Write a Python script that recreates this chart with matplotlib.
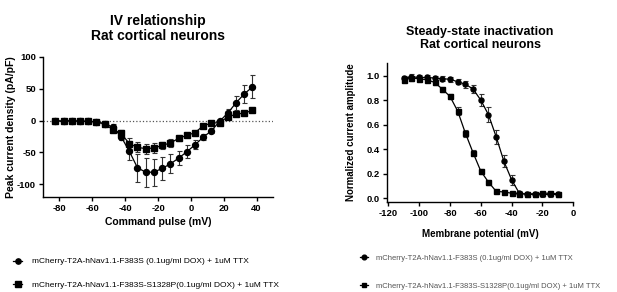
import matplotlib
matplotlib.use("Agg")
import matplotlib.pyplot as plt
from matplotlib.lines import Line2D

plt.rcParams['font.family'] = ['Liberation Sans', 'DejaVu Sans']
plt.rcParams['axes.unicode_minus'] = False

# IV relationship data
iv_volt = [-82.5, -77.5, -72.5, -67.5, -62.5, -57.5, -52.5, -47.5, -42.5, -37.5,
           -32.5, -27.5, -22.5, -17.5, -12.5, -7.5, -2.5, 2.5, 7.5, 12.5,
           17.5, 22.5, 27.5, 32.5, 37.5]
iv_f383s = [0, -1, 0, -1, -1, -2, -5, -10, -25, -48,
            -74, -81, -81, -75, -68, -59, -49, -38, -26, -16,
            -1, 12, 28, 42, 53]
iv_f383s_err = [2, 1, 1, 1, 1, 1, 2, 4, 6, 14,
                22, 23, 21, 18, 15, 11, 10, 7, 5, 4,
                4, 7, 11, 14, 18]
iv_s1328p = [0, -1, 0, -1, -1, -2, -5, -14, -20, -36,
             -42, -44, -43, -39, -35, -28, -23, -19, -8, -4,
             -3, 6, 10, 12, 16]
iv_s1328p_err = [2, 1, 1, 1, 1, 1, 2, 4, 6, 8,
                 8, 8, 8, 6, 6, 4, 3, 3, 3, 2,
                 3, 3, 2, 2, 2]

# steady-state inactivation data
ss_volt = [-110, -105, -100, -95, -90, -85, -80, -75, -70, -65,
           -60, -55, -50, -45, -40, -35, -30, -25, -20, -15, -10]
ss_f383s = [0.98, 0.99, 0.985, 0.985, 0.98, 0.975, 0.97, 0.95, 0.93, 0.89,
            0.80, 0.68, 0.50, 0.30, 0.15, 0.04, 0.03, 0.03, 0.03, 0.03, 0.03]
ss_f383s_err = [0.02, 0.02, 0.02, 0.02, 0.02, 0.02, 0.02, 0.02, 0.03, 0.03,
                0.05, 0.06, 0.06, 0.05, 0.04, 0.02, 0.02, 0.02, 0.02, 0.02, 0.02]
ss_s1328p = [0.965, 0.98, 0.975, 0.965, 0.945, 0.89, 0.83, 0.71, 0.53, 0.37,
             0.22, 0.13, 0.055, 0.05, 0.04, 0.035, 0.035, 0.035, 0.04, 0.04, 0.035]
ss_s1328p_err = [0.02, 0.02, 0.02, 0.02, 0.02, 0.02, 0.02, 0.03, 0.03, 0.02,
                 0.02, 0.02, 0.01, 0.01, 0.01, 0.01, 0.01, 0.01, 0.01, 0.01, 0.01]

labels = ["mCherry-T2A-hNav1.1-F383S (0.1ug/ml DOX) + 1uM TTX",
          "mCherry-T2A-hNav1.1-F383S-S1328P(0.1ug/ml DOX) + 1uM TTX"]

fig = plt.figure(figsize=(6.17, 2.92), dpi=100)

def style_axes(ax):
    for side in ['top', 'right']:
        ax.spines[side].set_visible(False)
    for side in ['left', 'bottom']:
        ax.spines[side].set_linewidth(1.0)
    ax.tick_params(direction='out', length=3, width=1.0, labelsize=6.8, pad=2)
    for lab in ax.get_xticklabels() + ax.get_yticklabels():
        lab.set_fontweight('bold')

# left panel
ax1 = fig.add_axes([0.0697, 0.3253, 0.3728, 0.4795])
ax1.axhline(0, color='#555555', linestyle=':', linewidth=0.9, zorder=0)
ax1.errorbar(iv_volt, iv_f383s, yerr=iv_f383s_err, fmt='-o', color='black',
             ecolor='#333333', markersize=4.3, linewidth=0.9, elinewidth=0.8,
             capsize=1.8, capthick=0.8)
ax1.errorbar(iv_volt, iv_s1328p, yerr=iv_s1328p_err, fmt='-s', color='black',
             ecolor='#333333', markersize=4.3, linewidth=0.9, elinewidth=0.8,
             capsize=1.8, capthick=0.8)
ax1.set_xlim(-90, 50)
ax1.set_ylim(-120, 100)
ax1.set_xticks([-80, -60, -40, -20, 0, 20, 40])
ax1.set_yticks([-100, -50, 0, 50, 100])
style_axes(ax1)
ax1.set_xlabel("Command pulse (mV)", fontsize=7.5, fontweight='bold', labelpad=3)
ax1.set_ylabel("Peak current density (pA/pF)", fontsize=7.5, fontweight='bold', labelpad=1)
ax1.set_title("IV relationship\nRat cortical neurons", fontsize=10, fontweight='bold',
              pad=12, linespacing=1.1)

# right panel
ax2 = fig.add_axes([0.627, 0.309, 0.302, 0.474])
ax2.errorbar(ss_volt, ss_f383s, yerr=ss_f383s_err, fmt='-o', color='black',
             ecolor='#333333', markersize=3.6, linewidth=0.9, elinewidth=0.8,
             capsize=1.8, capthick=0.8)
ax2.errorbar(ss_volt, ss_s1328p, yerr=ss_s1328p_err, fmt='-s', color='black',
             ecolor='#333333', markersize=3.6, linewidth=0.9, elinewidth=0.8,
             capsize=1.8, capthick=0.8)
ax2.set_xlim(-121, 0)
ax2.set_ylim(-0.03, 1.1)
ax2.set_xticks([-120, -100, -80, -60, -40, -20, 0])
ax2.set_yticks([0.0, 0.2, 0.4, 0.6, 0.8, 1.0])
ax2.set_yticklabels(["0.0", "0.2", "0.4", "0.6", "0.8", "1.0"])
style_axes(ax2)
ax2.set_xlabel("Membrane potential (mV)", fontsize=7, fontweight='bold', labelpad=8)
ax2.set_ylabel("Normalized current amplitude", fontsize=7, fontweight='bold', labelpad=8)
ax2.set_title("Steady-state inactivation\nRat cortical neurons", fontsize=9,
              fontweight='bold', pad=11, linespacing=1.15)

# legends
h_left = [Line2D([0], [0], color='black', marker='o', markersize=3.8, linewidth=0.9),
          Line2D([0], [0], color='black', marker='s', markersize=3.8, linewidth=0.9)]
fig.legend(h_left, labels, loc='upper left', bbox_to_anchor=(0.015, 0.132),
           frameon=False, fontsize=6.0, handlelength=1.0, handletextpad=1.2,
           labelspacing=1.85, borderpad=0)

h_right = [Line2D([0], [0], color='black', marker='o', markersize=3.4, linewidth=0.9),
           Line2D([0], [0], color='black', marker='s', markersize=3.4, linewidth=0.9)]
leg2 = fig.legend(h_right, labels, loc='upper left', bbox_to_anchor=(0.578, 0.142),
                  frameon=False, fontsize=5.5, handlelength=1.0, handletextpad=1.0,
                  labelspacing=2.7, borderpad=0)
for t in leg2.get_texts():
    t.set_color('#555555')

fig.savefig("out.png", dpi=100)
